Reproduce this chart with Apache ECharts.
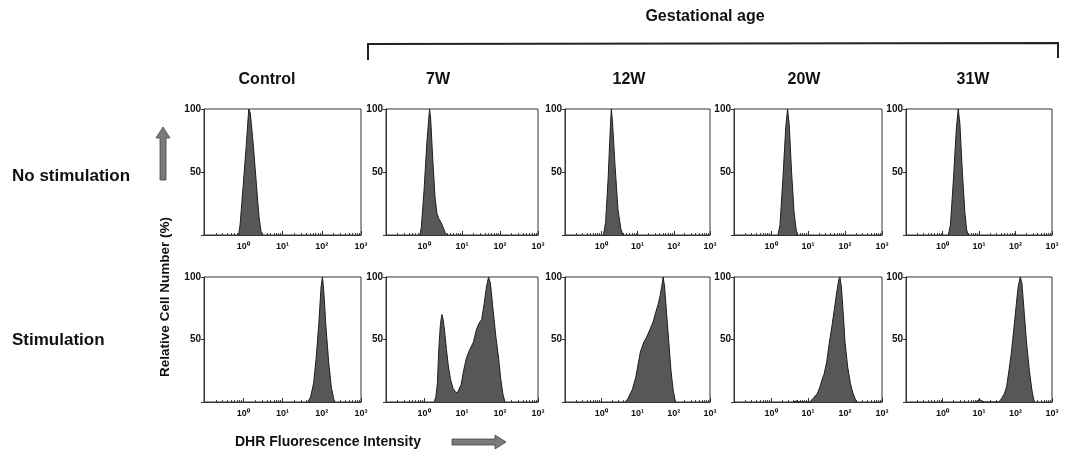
<!DOCTYPE html>
<html><head><meta charset="utf-8">
<script src="https://cdn.jsdelivr.net/npm/echarts@6/dist/echarts.min.js"></script>
<style>html,body{margin:0;padding:0;background:#fff}#c{width:1092px;height:450px}</style>
</head><body><div id="c"></div><script>
// ---- data ----
const columns = ['Control', '7W', '12W', '20W', '31W'];
const rowLabels = ['No stimulation', 'Stimulation'];
const groupTitle = 'Gestational age';
const yTitle = 'Relative Cell Number (%)';
const xTitle = 'DHR Fluorescence Intensity';
const xTickLabels = { '1': '10⁰', '10': '10¹', '100': '10²', '1000': '10³' };
const yTickLabels = { '50': '50', '100': '100' };

// No stimulation row: [DHR intensity, relative cell number %]
const noStimControl = [[0.76,0],[0.83,8],[1.0,40],[1.2,72],[1.38,100],[1.51,97],[1.82,70],[2.19,38],[2.51,15],[2.82,3],[3.16,0]];
const noStim7W = [[0.78,0],[0.85,6],[1.0,35],[1.2,75],[1.4,100],[1.5,92],[1.7,60],[1.95,30],[2.2,17],[2.45,13],[2.8,10],[3.2,6],[3.6,2],[4.0,0]];
const noStim12W = [[1.15,0],[1.32,10],[1.55,45],[1.78,85],[1.9,100],[2.04,90],[2.4,55],[2.9,20],[3.47,5],[3.98,0]];
const noStim20W = [[1.55,0],[1.75,8],[2.1,45],[2.5,85],[2.8,100],[3.1,88],[3.6,50],[4.2,18],[4.8,4],[5.3,0]];
const noStim31W = [[1.45,0],[1.65,8],[2.0,45],[2.4,85],[2.7,100],[3.0,88],[3.5,50],[4.1,18],[4.6,4],[5.1,0]];

// Stimulation row
const stimControl = [[44,0],[52,4],[62,15],[72,35],[84,62],[96,92],[104,100],[112,90],[128,60],[150,32],[175,12],[200,3],[215,0]];
const stim7W = [[1.85,0],[2.05,4],[2.25,15],[2.45,42],[2.7,62],[2.95,70],[3.2,66],[3.5,56],[3.9,42],[4.4,28],[5.0,18],[5.8,11],[6.7,8],[7.6,7.5],[8.5,9],[9.5,14],[11,25],[13,35],[16,42],[20,48],[24,58],[28,63],[33,66],[38,78],[44,92],[50,100],[56,95],[65,75],[78,52],[92,35],[105,18],[120,6],[135,0]];
const stim12W = [[4.6,0],[5.5,3],[7.2,10],[9,20],[12,40],[15,48],[18,52],[22,58],[27,64],[32,72],[37,78],[42,85],[47,93],[51,100],[56,92],[63,72],[73,48],[84,25],[96,10],[106,3],[112,0]];
const stim20W = [[4,0],[5,1],[6,0],[11,0],[14,3],[18,7],[21,12],[24,18],[27,22],[32,32],[38,48],[45,62],[52,75],[60,88],[68,98],[73,100],[80,92],[90,70],[100,48],[118,28],[140,15],[160,8],[185,3],[205,0]];
const stim31W = [[8,0],[10,2],[12,1],[14,0],[35,0],[42,3],[50,7],[57,12],[66,25],[76,38],[84,50],[95,65],[105,78],[118,92],[135,100],[150,95],[175,70],[200,48],[240,25],[280,10],[305,4],[330,0]];

const panelData = [
  [noStimControl, noStim7W, noStim12W, noStim20W, noStim31W],
  [stimControl, stim7W, stim12W, stim20W, stim31W]
];

// ---- layout ----
const colLeft = [204, 386, 565, 734, 906];
const colRight = [361, 538, 710, 882, 1052];
const titleX = [267, 438, 629, 804, 973];
const rowTop = [109, 277];
const rowBottom = [235, 402];
const FONT = 'Liberation Sans, Arial, sans-serif';

const grids = [], xAxes = [], yAxes = [], series = [];
for (let r = 0; r < 2; r++) {
  for (let c = 0; c < 5; c++) {
    const i = r * 5 + c;
    grids.push({
      left: colLeft[c], top: rowTop[r],
      width: colRight[c] - colLeft[c], height: rowBottom[r] - rowTop[r],
      show: true, borderColor: '#333', borderWidth: 1, backgroundColor: 'transparent'
    });
    xAxes.push({
      gridIndex: i, type: 'log', logBase: 10, min: 0.1, max: 1000,
      axisLine: { show: true, lineStyle: { color: '#333', width: 1 } },
      axisTick: { show: true, inside: true, length: 4, lineStyle: { color: '#333' } },
      minorTick: { show: true, splitNumber: 9, length: 2, lineStyle: { color: '#444' } },
      splitLine: { show: false }, minorSplitLine: { show: false },
      axisLabel: {
        show: true, margin: 7, color: '#111', fontFamily: FONT, fontWeight: 'bold', fontSize: 9,
        showMinLabel: true, showMaxLabel: true,
        formatter: v => xTickLabels[String(Math.round(v))] || ''
      }
    });
    yAxes.push({
      gridIndex: i, type: 'value', min: 0, max: 100, interval: 50,
      axisLine: { show: true, lineStyle: { color: '#333', width: 1 } },
      axisTick: { show: true, inside: false, length: 3, lineStyle: { color: '#333' } },
      splitLine: { show: false },
      axisLabel: {
        show: true, margin: 3, color: '#111', fontFamily: FONT, fontWeight: 'bold', fontSize: 10,
        formatter: v => yTickLabels[String(v)] || ''
      }
    });
    series.push({
      type: 'line', xAxisIndex: i, yAxisIndex: i, data: panelData[r][c],
      symbol: 'none', silent: true,
      lineStyle: { color: '#1e1e1e', width: 1 },
      areaStyle: { color: '#575757', opacity: 1 }
    });
  }
}

const textStyleBase = { fill: '#111', fontFamily: FONT, fontWeight: 'bold' };
const graphics = [];
// column titles
columns.forEach((t, c) => {
  graphics.push({ type: 'text', x: titleX[c], y: 80,
    style: Object.assign({ text: t, fontSize: 16, textAlign: 'center', textVerticalAlign: 'middle' }, textStyleBase) });
});
// row labels
graphics.push({ type: 'text', x: 12, y: 176, style: Object.assign({ text: rowLabels[0], fontSize: 17, textAlign: 'left', textVerticalAlign: 'middle' }, textStyleBase) });
graphics.push({ type: 'text', x: 12, y: 340, style: Object.assign({ text: rowLabels[1], fontSize: 17, textAlign: 'left', textVerticalAlign: 'middle' }, textStyleBase) });
// group title + bracket
graphics.push({ type: 'text', x: 705, y: 17, style: Object.assign({ text: groupTitle, fontSize: 16, textAlign: 'center', textVerticalAlign: 'middle' }, textStyleBase) });
graphics.push({ type: 'polyline', shape: { points: [[368, 60], [368, 44], [1058, 43], [1058, 58]] }, style: { stroke: '#222', lineWidth: 2, fill: null } });
// y title
graphics.push({ type: 'text', x: 165, y: 297, rotation: Math.PI / 2,
  style: Object.assign({ text: yTitle, fontSize: 13.5, textAlign: 'center', textVerticalAlign: 'middle' }, textStyleBase) });
// x title
graphics.push({ type: 'text', x: 235, y: 442, style: Object.assign({ text: xTitle, fontSize: 14, textAlign: 'left', textVerticalAlign: 'middle' }, textStyleBase) });
// arrows
graphics.push({ type: 'polygon', shape: { points: [[160, 180], [166, 180], [166, 138], [170, 138], [163, 127], [156, 138], [160, 138]] },
  style: { fill: '#7a7a7a', stroke: '#444', lineWidth: 0.8 } });
graphics.push({ type: 'polygon', shape: { points: [[452, 439], [495, 439], [495, 435], [506, 442], [495, 449], [495, 445], [452, 445]] },
  style: { fill: '#7a7a7a', stroke: '#444', lineWidth: 0.8 } });

const chart = echarts.init(document.getElementById('c'), null, { renderer: 'canvas' });
chart.setOption({
  animation: false,
  backgroundColor: '#fff',
  grid: grids, xAxis: xAxes, yAxis: yAxes, series: series,
  graphic: graphics
});
</script></body></html>
